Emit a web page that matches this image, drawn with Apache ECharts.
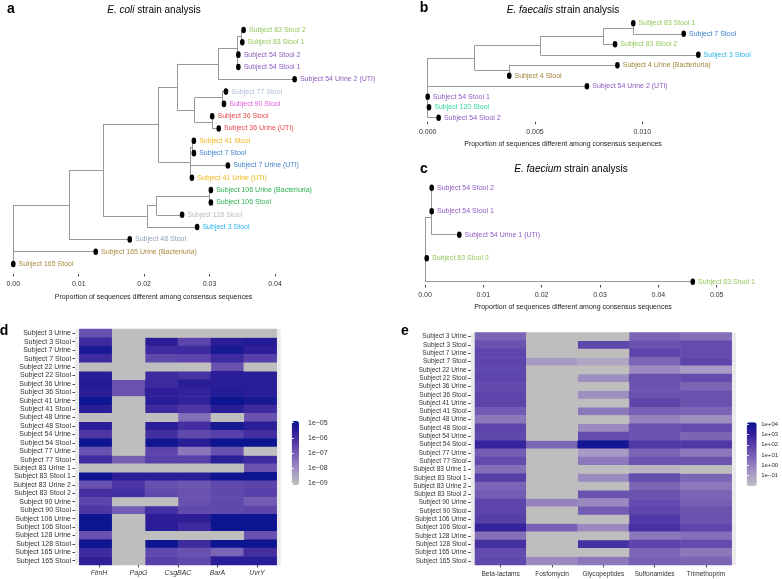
<!DOCTYPE html>
<html><head><meta charset="utf-8">
<script src="https://cdn.jsdelivr.net/npm/echarts@6/dist/echarts.min.js"></script>
<style>html,body{margin:0;padding:0;background:#fff}#c{width:782px;height:579px}</style>
</head><body><div id="c"></div>
<script>
// ================= DATA =================
// Panel a: E. coli tree (leaves top -> bottom)
const ecoliLeaves = ['Subject 83 Stool 2','Subject 83 Stool 1','Subject 54 Stool 2','Subject 54 Stool 1','Subject 54 Urine 2 (UTI)','Subject 77 Stool','Subject 90 Stool','Subject 36 Stool','Subject 36 Urine (UTI)','Subject 41 Stool','Subject 7 Stool','Subject 7 Urine (UTI)','Subject 41 Urine (UTI)','Subject 106 Urine (Bacteriuria)','Subject 106 Stool','Subject 128 Stool','Subject 3 Stool','Subject 48 Stool','Subject 165 Urine (Bacteriuria)','Subject 165 Stool'];
const ecoliLeafParent = ['n14','n14','n15','n15','n11','n16','n16','n17','n17','n8','n8','n6','n6','n10','n10','n9','n4','n1','root','root'];
const ecoliLeafDist = [0.0352,0.0350,0.0344,0.0344,0.0430,0.0325,0.0322,0.0304,0.0314,0.0276,0.0276,0.0328,0.0273,0.0302,0.0302,0.0258,0.0281,0.0178,0.0126,0.0];
const ecoliNodes = ['root','n1','n2','n3','n4','n5','n6','n8','n9','n10','n11','n12','n13','n14','n15','n16','n17'];
const ecoliNodeParent = [null,'root','n1','n2','n2','n3','n3','n6','n4','n9','n5','n5','n11','n13','n13','n12','n12'];
const ecoliNodeDist = [0,0.0085,0.0137,0.0222,0.0204,0.0250,0.0270,0.0273,0.0219,0.0300,0.0313,0.0277,0.0342,0.0349,0.0343,0.0319,0.0304];
const ecoliTicks = [0, 0.01, 0.02, 0.03, 0.04];
const ecoliTickLabels = ['0.00','0.01','0.02','0.03','0.04'];

// Panel b: E. faecalis tree
const faecalisLeaves = ['Subject 83 Stool 1','Subject 7 Stool','Subject 83 Stool 2','Subject 3 Stool','Subject 4 Urine (Bacteriuria)','Subject 4 Stool','Subject 54 Urine 2 (UTI)','Subject 54 Stool 1','Subject 120 Stool','Subject 54 Stool 2'];
const faecalisLeafParent = ['m5','m5','m4','m2','m3','m3','root','root','root','root'];
const faecalisLeafDist = [0.00958,0.01193,0.00873,0.01261,0.00884,0.0038,0.00742,0,0.00006,0.00051];
const faecalisNodes = ['root','m1','m2','m3','m4','m5'];
const faecalisNodeParent = [null,'root','m1','m1','m2','m4'];
const faecalisNodeDist = [0,0.00219,0.00525,0.0038,0.00818,0.00958];
const faecalisTicks = [0, 0.005, 0.010];
const faecalisTickLabels = ['0.000','0.005','0.010'];

// Panel c: E. faecium tree
const faeciumLeaves = ['Subject 54 Stool 2','Subject 54 Stool 1','Subject 54 Urine 1 (UTI)','Subject 83 Stool 2','Subject 83 Stool 1'];
const faeciumLeafParent = ['k2','k2','k1','root','root'];
const faeciumLeafDist = [0.00115,0.00115,0.00588,0.0003,0.0459];
const faeciumNodes = ['root','k1','k2'];
const faeciumNodeParent = [null,'root','k1'];
const faeciumNodeDist = [0,0.00115,0.00115];
const faeciumTicks = [0, 0.01, 0.02, 0.03, 0.04, 0.05];
const faeciumTickLabels = ['0.00','0.01','0.02','0.03','0.04','0.05'];

// Heatmap rows (shared by d and e)
const sampleRows = ['Subject 3 Urine','Subject 3 Stool','Subject 7 Urine','Subject 7 Stool','Subject 22 Urine','Subject 22 Stool','Subject 36 Urine','Subject 36 Stool','Subject 41 Urine','Subject 41 Stool','Subject 48 Urine','Subject 48 Stool','Subject 54 Urine','Subject 54 Stool','Subject 77 Urine','Subject 77 Stool','Subject 83 Urine 1','Subject 83 Stool 1','Subject 83 Urine 2','Subject 83 Stool 2','Subject 90 Urine','Subject 90 Stool','Subject 106 Urine','Subject 106 Stool','Subject 128 Urine','Subject 128 Stool','Subject 165 Urine','Subject 165 Stool'];

// Panel d: gene abundance, log10 values (null = NA, shown grey); 6 tile columns, 5 axis labels
const geneLabels = ['FimH','PapG','CsgBAC','BarA','UvrY'];
const geneTileCols = ['1','2','3','4','5','6'];
const geneCol1 = [-6.8,-5.9,-5.2,-5.9,null,-5.5,-5.4,-5.5,-4.95,-5.5,null,-5.5,-6.2,-4.95,-6.8,-5.9,null,-4.95,-6.8,-6.0,-6.5,-6.2,-4.95,-4.95,-6.8,-4.95,-5.9,-5.6];
const geneCol2 = [null,null,null,null,null,null,-6.8,-6.8,null,null,null,null,null,null,null,-7.1,null,-5.5,-6.2,-6.0,null,-7.0,null,null,null,null,null,null];
const geneCol3 = [null,-5.5,-5.9,-6.6,null,-5.9,-5.9,-5.6,-5.5,-5.9,null,-5.5,-6.0,-5.0,-6.5,-6.4,null,-5.5,-6.8,-6.6,null,-6.0,-5.6,-5.5,null,-4.95,-6.6,-6.4];
const geneCol4 = [null,-6.5,-5.9,-6.5,null,-6.1,-5.5,-5.7,-5.7,-6.2,-7.4,-6.0,-6.6,-5.5,-7.6,-6.4,null,-5.5,-6.9,-6.8,-6.8,-6.6,-5.6,-5.9,null,-5.9,-6.8,-6.6];
const geneCol5 = [null,-5.5,-5.2,-5.9,-6.8,-5.5,-5.5,-5.4,-4.95,-5.5,null,-5.2,-6.4,-4.95,-6.8,-5.5,null,-4.95,-6.6,-6.6,-6.6,-6.6,-4.95,-4.95,null,-4.95,-7.2,-5.5];
const geneCol6 = [null,-5.4,-5.6,-6.4,null,-5.5,-5.5,-5.5,-5.2,-5.9,-6.8,-5.5,-6.0,-4.95,null,-5.9,-6.8,-4.95,-6.5,-6.4,-7.0,-6.5,-4.95,-4.95,-6.8,-4.95,-6.0,-5.5];
const geneLegendValues = [-5,-6,-7,-8,-9];
const geneLegendLabels = ['1e\u221205','1e\u221206','1e\u221207','1e\u221208','1e\u221209'];
const geneRange = [-9.13, -4.89];

// Panel e: antibiotic resistance, log10 values (null = NA)
const abxLabels = ['Beta-lactams','Fosfomycin','Glycopeptides','Sulfonamides','Trimethoprim'];
const abxBeta = [0.8,1.4,1.8,1.8,1.7,1.8,1.6,1.8,1.8,1.1,0.2,1.8,1.7,3.0,1.1,1.6,0.5,2.0,0.8,1.1,1.8,1.8,2.0,3.0,0.5,2.5,1.6,1.7];
const abxFosfo = [null,null,null,-0.8,null,null,null,null,null,null,null,null,null,0.8,null,null,null,null,null,null,-0.1,null,null,1.0,null,null,null,-0.3];
const abxGlyco = [null,1.7,null,-1.2,null,-0.45,null,-0.45,null,0.2,null,-0.3,1.6,3.9,-0.8,0.2,null,-0.3,null,1.4,-0.3,1.1,null,-0.3,null,2.5,null,0.2];
const abxSulfo = [0.8,1.4,1.8,0.8,-0.3,1.4,1.4,1.4,1.8,1.0,-0.1,1.4,1.4,2.2,0.8,1.4,-1.7,1.6,0.8,1.4,1.6,1.8,2.2,2.5,0.2,1.8,0.8,1.0];
const abxTrim = [0.5,1.6,1.6,1.8,-0.8,1.6,0.8,1.4,1.4,0.8,-0.45,1.6,0.8,2.2,0.2,1.4,null,0.8,0.2,0.8,1.0,1.4,1.4,1.8,0.5,1.6,0.2,0.8];
const abxLegendValues = [4,3,2,1,0,-1];
const abxLegendLabels = ['1e+04','1e+03','1e+02','1e+01','1e+00','1e\u221201'];
const abxRange = [-2.0, 4.19];

// ================= STYLE =================
const FF = "'Liberation Sans', Arial, Helvetica, sans-serif";
const subjectColors = {'3':'#27B3E6','4':'#A08438','7':'#3D7FCC','36':'#E8474F','41':'#F2B41C','48':'#8FA2B8','54':'#8E5CC2','77':'#AFBDDB','83':'#93C95A','90':'#E05ADC','106':'#2DAF50','120':'#34D89A','128':'#BBBBBB','165':'#A88A3E'};
const heatColors = ['#BEBEBE','#ACA0C5','#907EBD','#735CB3','#533BA7','#2E1F99','#0A1490'];
const branchColor = '#999999';

function subjColor(name){ const m = name.match(/Subject (\d+)/); return subjectColors[m[1]] || '#333'; }

// tree layout (ggtree rectangular style): leaves at y = n..1, inner node y = mid of children range
function layoutTree(leaves, leafParent, leafDist, nodes, nodeParent, nodeDist){
  const n = leaves.length, pos = {};
  leaves.forEach((nm,i)=>{ pos[nm] = {x:leafDist[i], y:n-i, parent:leafParent[i], leaf:true}; });
  nodes.forEach((nm,i)=>{ pos[nm] = {x:nodeDist[i], parent:nodeParent[i], children:[]}; });
  Object.keys(pos).forEach(k=>{ const p = pos[k].parent; if(p) pos[p].children.push(k); });
  function gy(k){ const o = pos[k]; if(o.leaf) return o.y; if(o.y==null){ const ys = o.children.map(gy); o.y = (Math.min(...ys)+Math.max(...ys))/2; } return o.y; }
  nodes.forEach(gy);
  const segs = [];
  nodes.forEach(k=>{
    const o = pos[k]; const ys = o.children.map(c=>pos[c].y);
    segs.push({coords:[[o.x,Math.min(...ys)],[o.x,Math.max(...ys)]]});
    o.children.forEach(c=>segs.push({coords:[[o.x,pos[c].y],[pos[c].x,pos[c].y]]}));
  });
  const tips = leaves.map((nm,i)=>({name:nm, value:[leafDist[i], n-i], label:{color:subjColor(nm)}}));
  return {segs, tips};
}
const treeA = layoutTree(ecoliLeaves, ecoliLeafParent, ecoliLeafDist, ecoliNodes, ecoliNodeParent, ecoliNodeDist);
const treeB = layoutTree(faecalisLeaves, faecalisLeafParent, faecalisLeafDist, faecalisNodes, faecalisNodeParent, faecalisNodeDist);
const treeC = layoutTree(faeciumLeaves, faeciumLeafParent, faeciumLeafDist, faeciumNodes, faeciumNodeParent, faeciumNodeDist);

function heatData(cols){
  const vals = [], na = [];
  cols.forEach((col,c)=>col.forEach((v,r)=>{ if(v===null) na.push([c,r,0]); else vals.push([c,r,v]); }));
  return {vals, na};
}
const heatD = heatData([geneCol1,geneCol2,geneCol3,geneCol4,geneCol5,geneCol6]);
const heatE = heatData([abxBeta,abxFosfo,abxGlyco,abxSulfo,abxTrim]);

function lookup(ticks, labels){ return v => { for(let i=0;i<ticks.length;i++){ if(Math.abs(ticks[i]-v)<1e-9) return labels[i]; } return ''; }; }

function treeXAxis(grid, max, interval, ticks, labels){
  return {type:'value', gridIndex:grid, min:0, max:max, interval:interval,
    axisLine:{show:false}, splitLine:{show:false},
    axisTick:{show:true, length:2.5, lineStyle:{color:'#444', width:1}},
    axisLabel:{fontSize:7, color:'#333', fontFamily:FF, margin:7, formatter:lookup(ticks, labels)}};
}
function treeYAxis(grid, min, max){ return {type:'value', gridIndex:grid, min:min, max:max, show:false}; }
function treeSeries(tree, idx){
  return [
    {type:'lines', coordinateSystem:'cartesian2d', xAxisIndex:idx, yAxisIndex:idx, data:tree.segs, silent:true, clip:false,
     lineStyle:{color:branchColor, width:1, opacity:1}, z:2},
    {type:'scatter', xAxisIndex:idx, yAxisIndex:idx, data:tree.tips, symbol:'circle', symbolSize:[4.6,6.6], clip:false, silent:true,
     itemStyle:{color:'#000', opacity:1}, z:3,
     label:{show:true, position:'right', distance:3, formatter:'{b}', fontSize:7, fontFamily:FF}}
  ];
}
const catYAxis = (grid, fs) => ({type:'category', gridIndex:grid, data:sampleRows, inverse:true, offset:4.3,
  axisLine:{show:false}, splitLine:{show:false},
  axisTick:{show:true, length:2.5, alignWithLabel:true, interval:0, lineStyle:{color:'#444'}},
  axisLabel:{fontSize:fs, color:'#333', fontFamily:FF, margin:4, interval:0}});

const option = {
  animation:false,
  backgroundColor:'#fff',
  grid:[
    {left:13.3, top:30, width:261.7, height:244},
    {left:427.7, top:23.3, width:214.6, height:98.4},
    {left:425, top:187.7, width:291.7, height:97.3},
    {left:79.3, top:329.1, width:197.4, height:235.8},
    {left:475, top:332.5, width:256.7, height:232.4},
    {left:291.7, top:421, width:7.3, height:64},
    {left:746.7, top:422.3, width:10, height:63.7}
  ],
  xAxis:[
    treeXAxis(0, 0.04, 0.01, ecoliTicks, ecoliTickLabels),
    treeXAxis(1, 0.010, 0.005, faecalisTicks, faecalisTickLabels),
    treeXAxis(2, 0.05, 0.01, faeciumTicks, faeciumTickLabels),
    {type:'category', gridIndex:3, data:geneTileCols, show:false},
    {type:'category', gridIndex:3, data:geneLabels, position:'bottom',
     axisLine:{show:false}, axisTick:{show:true, length:2.5, alignWithLabel:true, interval:0, lineStyle:{color:'#444'}},
     axisLabel:{fontSize:7, fontStyle:'italic', color:'#333', fontFamily:FF, margin:4.5, interval:0}},
    {type:'category', gridIndex:4, data:abxLabels, position:'bottom',
     axisLine:{show:false}, axisTick:{show:true, length:2.5, alignWithLabel:true, interval:0, lineStyle:{color:'#444'}},
     axisLabel:{fontSize:6.6, color:'#333', fontFamily:FF, margin:5.5, interval:0}},
    {type:'value', gridIndex:5, show:false},
    {type:'value', gridIndex:6, show:false}
  ],
  yAxis:[
    treeYAxis(0, 0.19, 20),
    treeYAxis(1, 0.62, 10),
    treeYAxis(2, 0.86, 5),
    catYAxis(3, 7),
    catYAxis(4, 6.5),
    {type:'value', gridIndex:5, min:geneRange[0], max:geneRange[1], position:'right', z:10,
     axisLine:{show:false}, splitLine:{show:false},
     axisTick:{show:true, inside:true, length:2, customValues:geneLegendValues, lineStyle:{color:'#fff'}},
     axisLabel:{customValues:geneLegendValues, formatter:lookup(geneLegendValues, geneLegendLabels), fontSize:7, color:'#333', fontFamily:FF, margin:9}},
    {type:'value', gridIndex:5, min:geneRange[0], max:geneRange[1], position:'left', z:10,
     axisLine:{show:false}, splitLine:{show:false}, axisLabel:{show:false},
     axisTick:{show:true, inside:true, length:2, customValues:geneLegendValues, lineStyle:{color:'#fff'}}},
    {type:'value', gridIndex:6, min:abxRange[0], max:abxRange[1], position:'right', z:10,
     axisLine:{show:false}, splitLine:{show:false},
     axisTick:{show:true, inside:true, length:2, customValues:abxLegendValues, lineStyle:{color:'#fff'}},
     axisLabel:{customValues:abxLegendValues, formatter:lookup(abxLegendValues, abxLegendLabels), fontSize:6, color:'#333', fontFamily:FF, margin:4.5}},
    {type:'value', gridIndex:6, min:abxRange[0], max:abxRange[1], position:'left', z:10,
     axisLine:{show:false}, splitLine:{show:false}, axisLabel:{show:false},
     axisTick:{show:true, inside:true, length:2, customValues:abxLegendValues, lineStyle:{color:'#fff'}}}
  ],
  visualMap:[
    {type:'continuous', seriesIndex:6, dimension:2, min:geneRange[0], max:geneRange[1], inRange:{color:heatColors},
     left:291.7, top:421, itemWidth:7.3, itemHeight:64, calculable:false, padding:0, hoverLink:false, orient:'vertical'},
    {type:'continuous', seriesIndex:8, dimension:2, min:abxRange[0], max:abxRange[1], inRange:{color:heatColors},
     left:746.7, top:422.3, itemWidth:10, itemHeight:63.7, calculable:false, padding:0, hoverLink:false, orient:'vertical'},
    {type:'continuous', seriesIndex:7, dimension:2, min:0, max:1, show:false, inRange:{color:['#BEBEBE','#BEBEBE']}},
    {type:'continuous', seriesIndex:9, dimension:2, min:0, max:1, show:false, inRange:{color:['#BEBEBE','#BEBEBE']}}
  ],
  series:[
    ...treeSeries(treeA, 0),
    ...treeSeries(treeB, 1),
    ...treeSeries(treeC, 2),
    {type:'heatmap', xAxisIndex:3, yAxisIndex:3, data:heatD.vals, silent:true},
    {type:'heatmap', xAxisIndex:3, yAxisIndex:3, data:heatD.na, silent:true},
    {type:'heatmap', xAxisIndex:5, yAxisIndex:4, data:heatE.vals, silent:true},
    {type:'heatmap', xAxisIndex:5, yAxisIndex:4, data:heatE.na, silent:true}
  ],
  graphic:[
    {type:'rect', z:-10, shape:{x:75, y:329.1, width:205.7, height:235.8}, style:{fill:'#EBEBEB'}},
    {type:'rect', z:-10, shape:{x:470.7, y:332.5, width:265.3, height:232.4}, style:{fill:'#EBEBEB'}},
    {type:'text', x:11, y:9, style:{text:'a', fontSize:14, fontWeight:'bold', fontFamily:FF, fill:'#000', align:'center', verticalAlign:'middle'}},
    {type:'text', x:424, y:8, style:{text:'b', fontSize:14, fontWeight:'bold', fontFamily:FF, fill:'#000', align:'center', verticalAlign:'middle'}},
    {type:'text', x:424, y:169, style:{text:'c', fontSize:14, fontWeight:'bold', fontFamily:FF, fill:'#000', align:'center', verticalAlign:'middle'}},
    {type:'text', x:4, y:331, style:{text:'d', fontSize:14, fontWeight:'bold', fontFamily:FF, fill:'#000', align:'center', verticalAlign:'middle'}},
    {type:'text', x:405, y:331, style:{text:'e', fontSize:14, fontWeight:'bold', fontFamily:FF, fill:'#000', align:'center', verticalAlign:'middle'}},
    {type:'text', x:154, y:10, style:{text:'{i|E. coli} strain analysis', rich:{i:{fontStyle:'italic', fontSize:10, fontFamily:FF, fill:'#000'}}, fontSize:10, fontFamily:FF, fill:'#000', align:'center', verticalAlign:'middle'}},
    {type:'text', x:563, y:10, style:{text:'{i|E. faecalis} strain analysis', rich:{i:{fontStyle:'italic', fontSize:10, fontFamily:FF, fill:'#000'}}, fontSize:10, fontFamily:FF, fill:'#000', align:'center', verticalAlign:'middle'}},
    {type:'text', x:571, y:169.5, style:{text:'{i|E. faecium} strain analysis', rich:{i:{fontStyle:'italic', fontSize:10, fontFamily:FF, fill:'#000'}}, fontSize:10, fontFamily:FF, fill:'#000', align:'center', verticalAlign:'middle'}},
    {type:'text', x:153.5, y:297, style:{text:'Proportion of sequences different among consensus sequences', fontSize:7, fontFamily:FF, fill:'#222', align:'center', verticalAlign:'middle'}},
    {type:'text', x:563, y:144, style:{text:'Proportion of sequences different among consensus sequences', fontSize:7, fontFamily:FF, fill:'#222', align:'center', verticalAlign:'middle'}},
    {type:'text', x:573, y:307, style:{text:'Proportion of sequences different among consensus sequences', fontSize:7, fontFamily:FF, fill:'#222', align:'center', verticalAlign:'middle'}}
  ]
};
const chart = echarts.init(document.getElementById('c'), null, {renderer:'canvas'});
chart.setOption(option);
</script>
</body></html>
